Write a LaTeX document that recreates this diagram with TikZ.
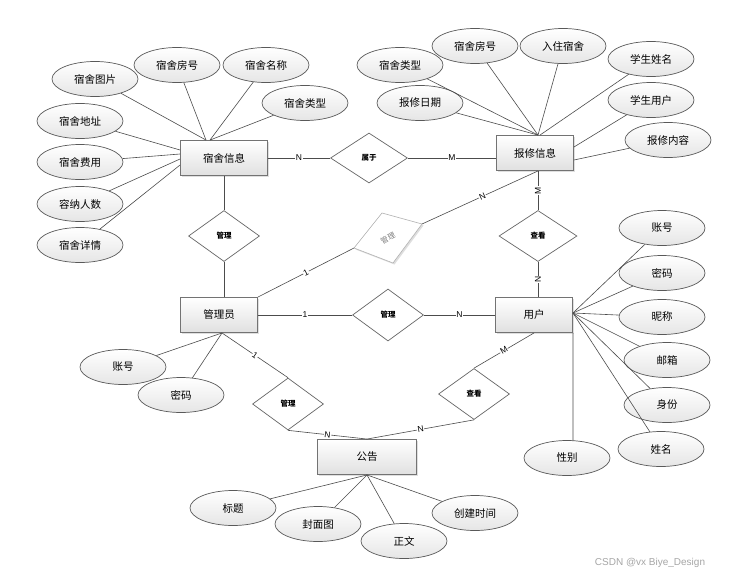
\documentclass[tikz,border=0pt]{standalone}
\usepackage{fontspec}
\setmainfont{Liberation Sans}
\newfontfamily\cjk{Noto Sans CJK SC}
\usetikzlibrary{shapes.geometric,shadows,calc}
\begin{document}
\begin{tikzpicture}[x=1pt,y=-1pt,
  ent/.style={draw=black!55, line width=0.9pt, top color=white, bottom color=black!12,
    minimum width=77pt, minimum height=35pt, inner sep=0pt,
    font=\cjk\fontsize{10.5}{12}\selectfont,
    drop shadow={shadow xshift=1.2pt, shadow yshift=-1.2pt, opacity=0.25}},
  attr/.style={ellipse, draw=black!65, line width=0.7pt, top color=white, bottom color=black!10,
    minimum width=86pt, minimum height=35pt, inner sep=0pt,
    font=\cjk\fontsize{10.5}{12}\selectfont},
  rel/.style={diamond, draw=black!60, line width=0.7pt, fill=white,
    minimum width=71pt, minimum height=51pt, inner sep=0pt,
    font=\cjk\bfseries\fontsize{7.5}{9}\selectfont},
  link/.style={draw=black!70, line width=0.6pt},
  card/.style={font=\fontsize{8.5}{9}\selectfont, fill=white, inner sep=0.6pt, sloped}
]
\useasboundingbox[fill=white] (0,0) rectangle (730,576);

% entities
\node[ent, minimum width=87pt] (ss) at (224,158) {宿舍信息};
\node[ent] (bx) at (535,153) {报修信息};
\node[ent] (gly) at (219,315) {管理员};
\node[ent] (yh) at (534,315) {用户};
\node[ent, minimum width=99pt] (gg) at (367,457) {公告};

% relationships
\node[rel, minimum width=77pt, minimum height=50pt] (rsy) at (369,158) {属于};
\node[rel] (rgl1) at (224,236) {管理};
\node[rel, minimum width=78pt] (rck1) at (538,236) {查看};
\node[rel, minimum height=52pt] (rgl2) at (388,315) {管理};
\node[rel, minimum height=52pt] (rgl3) at (288,404) {管理};
\node[rel] (rck2) at (474,394) {查看};

% grey rotated relationship
\coordinate (gT) at (382,213);
\coordinate (gR) at (422,224);
\coordinate (gB) at (393,263);
\coordinate (gL) at (354,248);
\fill[black!25, opacity=0.5] ($(gT)+(1.5,1.5)$) -- ($(gR)+(1.5,1.5)$) -- ($(gB)+(1.5,1.5)$) -- ($(gL)+(1.5,1.5)$) -- cycle;
\draw[black!30, line width=0.6pt, fill=white] (gT) -- (gR) -- (gB) -- (gL) -- cycle;
\node[font=\cjk\fontsize{7.5}{9}\selectfont, text=black!50, rotate=28] (rgrey) at (388,238) {管理};

% attributes of 宿舍信息
\node[attr] (a1) at (95,79) {宿舍图片};
\node[attr] (a2) at (177,65) {宿舍房号};
\node[attr] (a3) at (266,65) {宿舍名称};
\node[attr] (a4) at (305,103) {宿舍类型};
\node[attr] (a5) at (80,121) {宿舍地址};
\node[attr] (a6) at (80,162) {宿舍费用};
\node[attr] (a7) at (80,204) {容纳人数};
\node[attr] (a8) at (80,245) {宿舍详情};

% attributes of 报修信息
\node[attr] (b1) at (400,65) {宿舍类型};
\node[attr] (b2) at (475,46) {宿舍房号};
\node[attr] (b3) at (563,46) {入住宿舍};
\node[attr] (b4) at (651,59) {学生姓名};
\node[attr] (b5) at (651,100) {学生用户};
\node[attr] (b6) at (668,140) {报修内容};
\node[attr] (b7) at (420,103) {报修日期};

% attributes of 用户
\node[attr] (c1) at (662,228) {账号};
\node[attr] (c2) at (662,273) {密码};
\node[attr] (c3) at (662,317) {昵称};
\node[attr] (c4) at (667,360) {邮箱};
\node[attr] (c5) at (667,405) {身份};
\node[attr] (c6) at (661,449) {姓名};
\node[attr] (c7) at (567,458) {性别};

% attributes of 管理员
\node[attr] (d1) at (123,367) {账号};
\node[attr] (d2) at (181,395) {密码};

% attributes of 公告
\node[attr] (e1) at (233,508) {标题};
\node[attr] (e2) at (318,524) {封面图};
\node[attr] (e3) at (404,541) {正文};
\node[attr] (e4) at (475,513) {创建时间};

% attachment points
\coordinate (ssT1) at ($(ss.north)+(-18,0)$);
\coordinate (ssT2) at ($(ss.north)+(-14,0)$);
\coordinate (ssW1) at ($(ss.west)+(0,-8)$);
\coordinate (ssW2) at ($(ss.west)+(0,-4)$);
\coordinate (ssW3) at ($(ss.west)+(0,1)$);
\coordinate (ssW4) at ($(ss.west)+(0,7)$);
\coordinate (bxT1) at ($(bx.north)+(3,0)$);
\coordinate (bxT2) at ($(bx.north)+(5,0)$);
\coordinate (bxE1) at ($(bx.east)+(0,-6)$);
\coordinate (bxE2) at ($(bx.east)+(0,7)$);
\coordinate (bxB) at (rck1.north |- bx.south);
\coordinate (yhT) at (rck1.south |- yh.north);
\coordinate (yhE) at ($(yh.east)+(0,-2)$);
\coordinate (c7t) at ($(c7.north)+(6,0.4)$);
\coordinate (glyT) at (rgl1.south |- gly.north);
\coordinate (glyB) at ($(gly.south)+(3,0)$);

% connectors: 宿舍信息 attributes
\draw[link] (a1) -- (ssT1);
\draw[link] (a2) -- (ssT1);
\draw[link] (a3) -- (ssT2);
\draw[link] (a4) -- (ssT2);
\draw[link] (a5) -- (ssW1);
\draw[link] (a6) -- (ssW2);
\draw[link] (a7) -- (ssW3);
\draw[link] (a8) -- (ssW4);

% 报修信息 attributes
\draw[link] (b1) -- (bxT1);
\draw[link] (b2) -- (bxT1);
\draw[link] (b3) -- (bxT1);
\draw[link] (b7) -- (bxT1);
\draw[link] (b4) -- (bxT2);
\draw[link] (b5) -- (bxE1);
\draw[link] (b6) -- (bxE2);

% 用户 attributes
\draw[link] (c1) -- (yhE);
\draw[link] (c2) -- (yhE);
\draw[link] (c3) -- (yhE);
\draw[link] (c4) -- (yhE);
\draw[link] (c5) -- (yhE);
\draw[link] (c6) -- (yhE);
\draw[link] (yh.south east) -- (c7t);

% 管理员 attributes
\draw[link] (d1) -- (glyB);
\draw[link] (d2) -- (glyB);

% 公告 attributes
\draw[link] (e1) -- (gg.south);
\draw[link] (e2) -- (gg.south);
\draw[link] (e3) -- (gg.south);
\draw[link] (e4) -- (gg.south);

% relationships
\draw[link] (ss.east) -- node[card]{N} (rsy.west);
\draw[link] (rsy.east) -- node[card]{M} (bx.west |- rsy.east);
\draw[link] (ss.south) -- (rgl1.north);
\draw[link] (rgl1.south) -- (glyT);
\draw[link] (gly.north east) -- node[card]{1} (gL);
\draw[link] (gR) -- node[card, pos=0.52]{N} (bxB);
\draw[link] (bxB) -- node[card, sloped=false, rotate=90]{M} (rck1.north);
\draw[link] (rck1.south) -- node[card, sloped=false, rotate=90]{N} (yhT);
\draw[link] (gly.east) -- node[card]{1} (rgl2.west);
\draw[link] (rgl2.east) -- node[card]{N} (yh.west);
\draw[link] (glyB) -- node[card]{1} (rgl3.north);
\draw[link] (rgl3.south) -- node[card]{N} (gg.north);
\draw[link] (yh.south) -- node[card]{M} (rck2.north);
\draw[link] (rck2.south) -- node[card]{N} (gg.north);

% watermark
\node[font=\fontsize{10}{12}\selectfont, text=black!35] (wm) at (650,563) {CSDN @vx Biye\_Design};
\end{tikzpicture}
\end{document}
